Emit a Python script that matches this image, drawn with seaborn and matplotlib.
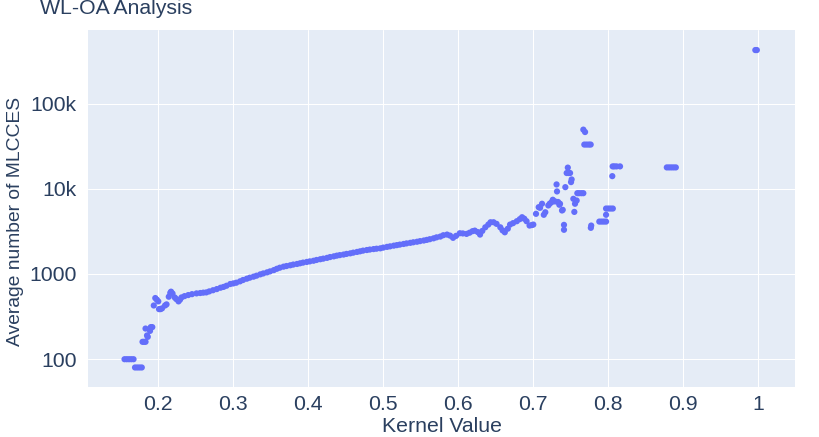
import numpy as np
import pandas as pd
import matplotlib
matplotlib.use("Agg")
import matplotlib.pyplot as plt
from matplotlib.ticker import FixedLocator, NullLocator
import seaborn as sns

# values
low_kernel = [0.155, 0.158, 0.161, 0.164, 0.167, 0.169, 0.172, 0.175, 0.178,
              0.179, 0.181, 0.183, 0.186, 0.185, 0.183, 0.189, 0.190, 0.192,
              0.194, 0.196, 0.198, 0.200, 0.201, 0.203, 0.205, 0.209, 0.211,
              0.214, 0.216, 0.217, 0.219, 0.222, 0.224, 0.227, 0.229]
low_mlcces = [100, 100, 100, 100, 100, 80, 80, 80, 80,
              160, 160, 160, 183, 190, 229, 215, 238, 238,
              427, 522, 500, 477, 387, 387, 395, 427, 440,
              541, 600, 620, 590, 530, 508, 477, 500]

curve_kernel = [0.231, 0.235, 0.240, 0.245, 0.251, 0.256, 0.260, 0.264, 0.268, 0.273,
                0.278, 0.283, 0.287, 0.291, 0.296, 0.300, 0.304, 0.309, 0.313, 0.318,
                0.322, 0.327, 0.331, 0.336, 0.340, 0.345, 0.349, 0.354, 0.358, 0.362,
                0.367, 0.371, 0.376, 0.380, 0.385, 0.389, 0.393, 0.398, 0.402, 0.407,
                0.411, 0.416, 0.420, 0.425, 0.429, 0.434, 0.438, 0.442, 0.447, 0.451,
                0.456, 0.460, 0.465, 0.469, 0.473, 0.478, 0.482, 0.487, 0.491, 0.496,
                0.500, 0.505, 0.509, 0.514, 0.518, 0.522, 0.527, 0.531, 0.536, 0.540,
                0.545, 0.549, 0.554, 0.558, 0.562, 0.567, 0.571, 0.576, 0.580, 0.585,
                0.589, 0.593, 0.597, 0.602, 0.606, 0.611, 0.615, 0.619, 0.622, 0.626,
                0.629, 0.632, 0.636, 0.640, 0.643, 0.647, 0.651, 0.656, 0.659, 0.662,
                0.666, 0.669, 0.673, 0.678, 0.682, 0.685, 0.688, 0.691, 0.695, 0.698,
                0.700]
curve_mlcces = [531, 550, 566, 580, 592, 598, 604, 608, 625, 645,
                665, 690, 705, 728, 763, 775, 790, 820, 850, 880,
                905, 930, 955, 990, 1015, 1045, 1073, 1110, 1150, 1185,
                1219, 1240, 1265, 1290, 1311, 1335, 1360, 1385, 1406, 1430,
                1460, 1490, 1514, 1545, 1580, 1610, 1641, 1665, 1690, 1720,
                1747, 1780, 1815, 1845, 1880, 1910, 1935, 1960, 1980, 2000,
                2040, 2080, 2110, 2150, 2180, 2212, 2250, 2285, 2320, 2355,
                2390, 2430, 2470, 2512, 2560, 2620, 2690, 2748, 2850, 2900,
                2820, 2656, 2800, 3006, 2990, 2953, 3050, 3180, 3228, 3100,
                2900, 3200, 3530, 3800, 4045, 4045, 3873, 3530, 3250, 3085,
                3400, 3800, 3950, 4160, 4400, 4634, 4450, 4160, 3700, 3750,
                3800]

high_kernel = [0.7036, 0.7072, 0.709, 0.7116, 0.714, 0.716, 0.720, 0.722, 0.7245, 0.726,
               0.729, 0.731, 0.7316, 0.733, 0.7347, 0.7356, 0.7383, 0.7392, 0.7409, 0.7409,
               0.7427, 0.7445, 0.746, 0.747, 0.749, 0.7503, 0.7511, 0.7534, 0.7547, 0.7556,
               0.7578, 0.7587, 0.761, 0.764, 0.7667, 0.7667, 0.769, 0.768, 0.771, 0.774,
               0.7765, 0.7767, 0.7772, 0.788, 0.791, 0.794, 0.797, 0.797, 0.797, 0.800,
               0.803, 0.806, 0.8053, 0.8058, 0.808, 0.811, 0.8156, 0.878, 0.881, 0.884,
               0.887, 0.890, 0.996, 0.998]
high_mlcces = [5080, 6080, 5980, 6670, 4950, 5300, 6370, 6700, 6970, 7430,
               7100, 11240, 9300, 7000, 6490, 6670, 5560, 5660, 3770, 3300,
               10440, 15300, 17700, 15300, 15300, 11970, 12860, 7620, 5350, 6670,
               7280, 8870, 8870, 8870, 8870, 49400, 46300, 33000, 33000, 33000,
               33000, 3480, 3700, 4120, 4120, 4120, 4120, 4950, 5860, 5860,
               5860, 5860, 14060, 18300, 18300, 18300, 18300, 17800, 17800, 17800,
               17800, 17800, 424000, 424000]

y_ticks = [100, 1000, 10000, 100000]
y_tick_labels = ["100", "1000", "10k", "100k"]
x_ticks = [0.2, 0.3, 0.4, 0.5, 0.6, 0.7, 0.8, 0.9, 1.0]
x_tick_labels = ["0.2", "0.3", "0.4", "0.5", "0.6", "0.7", "0.8", "0.9", "1"]

df = pd.DataFrame({
    "kernel": low_kernel + curve_kernel + high_kernel,
    "mlcces": low_mlcces + curve_mlcces + high_mlcces,
})

text_color = "#2a3f5f"
fs = 15.3
sns.set_theme(style="darkgrid", rc={
    "axes.facecolor": "#E5ECF6",
    "figure.facecolor": "white",
    "grid.color": "white",
    "grid.linewidth": 0.75,
    "axes.edgecolor": "#E5ECF6",
})
plt.rcParams["font.family"] = ["Liberation Sans", "DejaVu Sans"]

fig = plt.figure(figsize=(8.19, 4.37), dpi=100)
ax = fig.add_axes([88 / 819, 1 - 387 / 437, (795 - 88) / 819, (387 - 30) / 437])

sns.scatterplot(data=df, x="kernel", y="mlcces", ax=ax, color="#636efa",
                s=20, edgecolor="none", linewidth=0, zorder=3)

ax.set_yscale("log")
ax.set_xlim(0.1063, 1.0489)
ax.set_ylim(10 ** 1.674, 10 ** 5.8627)

ax.xaxis.set_major_locator(FixedLocator(x_ticks))
ax.set_xticklabels(x_tick_labels)
ax.yaxis.set_major_locator(FixedLocator(y_ticks))
ax.yaxis.set_minor_locator(NullLocator())
ax.set_yticklabels(y_tick_labels)

ax.tick_params(axis="both", length=0, labelsize=fs, colors=text_color)
ax.tick_params(axis="x", pad=6)
ax.tick_params(axis="y", pad=8)
for s in ax.spines.values():
    s.set_visible(False)

ax.set_xlabel("Kernel Value", fontsize=fs, color=text_color, labelpad=2)
ax.set_ylabel("Average number of MLCCES", fontsize=13.9, color=text_color)
ax.yaxis.set_label_coords((16 - 88) / 707, 0.465)
ax.yaxis.label.set_va("center")

fig.text(40 / 819, 1 - 9 / 437, "WL-OA Analysis", fontsize=fs,
         color=text_color, ha="left", va="center")

fig.savefig("out.png", dpi=100)
